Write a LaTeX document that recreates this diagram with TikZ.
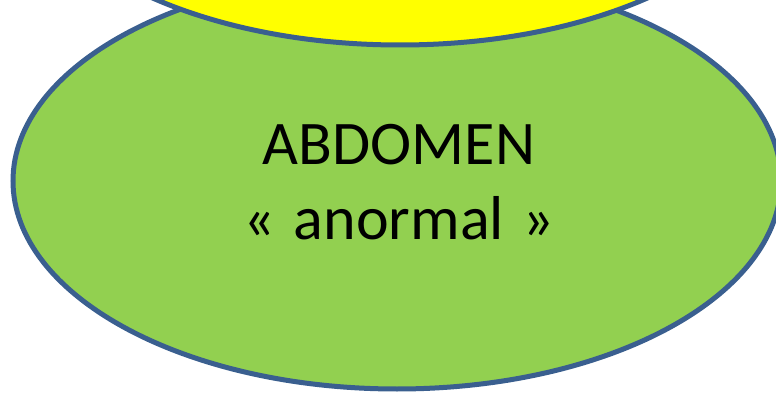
\documentclass[tikz,border=0pt]{standalone}
\usepackage{fontspec}
\setmainfont{Carlito}
\definecolor{leafgreen}{HTML}{92D050}
\definecolor{brightyellow}{HTML}{FFFF00}
\definecolor{edgeblue}{HTML}{3A5F8F}
\tikzset{
  blob/.style={draw=edgeblue, line width=5pt},
  bigtext/.style={font=\fontsize{62}{75}\selectfont, align=center, text=black, inner sep=0pt}
}
\begin{document}
\begin{tikzpicture}[x=1pt,y=-1pt]
\useasboundingbox (0,0) rectangle (776,395);
\begin{scope}
\clip (0,0) rectangle (776,395);
\draw[blob, fill=leafgreen] (397,181) ellipse [x radius=384, y radius=208];
\draw[blob, fill=brightyellow] (400,-150) ellipse [x radius=380, y radius=195];
\end{scope}
\node[bigtext, anchor=base] (label) at (399,240) {ABDOMEN\\«\hspace{0.3em}anormal\hspace{0.3em}»};
\end{tikzpicture}
\end{document}
